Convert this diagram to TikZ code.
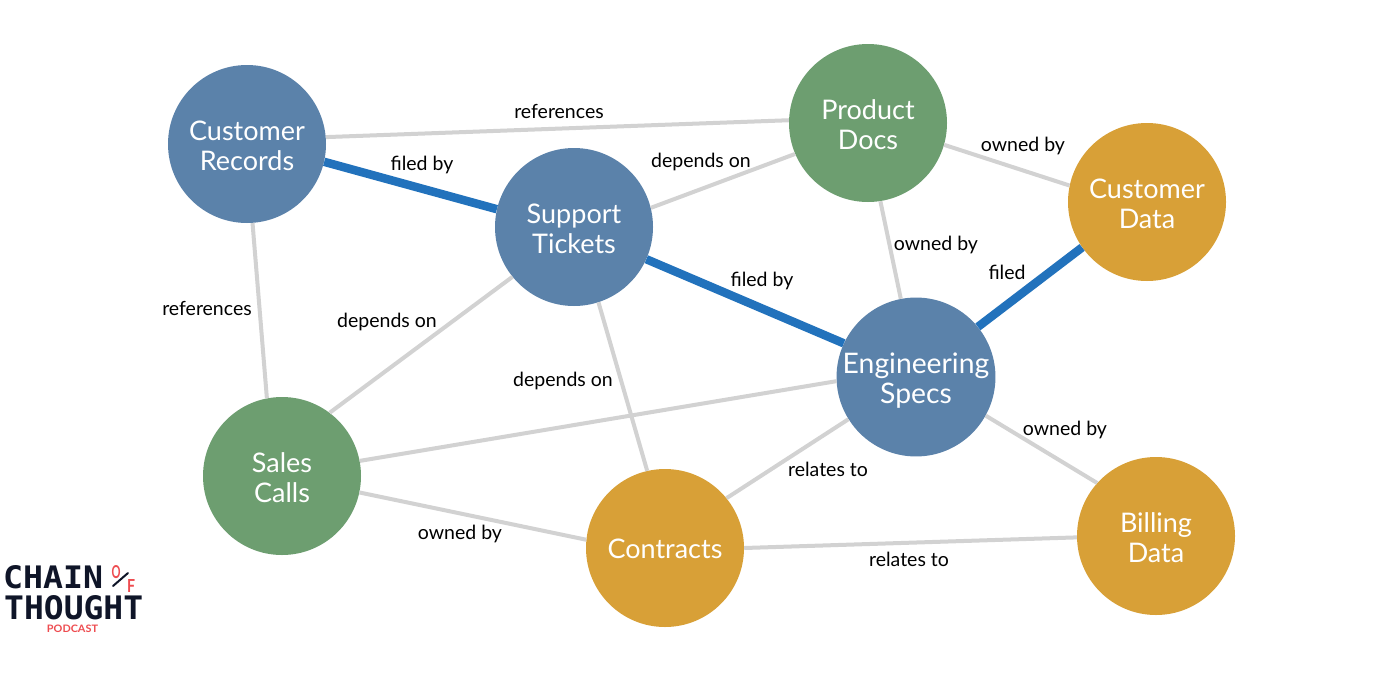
\documentclass[tikz,border=0pt]{standalone}
\usepackage{fontspec}
\setmainfont{Lato}
\newfontfamily\logofont{DejaVu Sans Mono}
\definecolor{nblue}{HTML}{5B82AA}
\definecolor{ngreen}{HTML}{6D9E70}
\definecolor{norange}{HTML}{D8A037}
\definecolor{egrey}{HTML}{D2D2D2}
\definecolor{eblue}{HTML}{2272BC}
\definecolor{logonavy}{HTML}{0F1528}
\definecolor{logored}{HTML}{EE4C50}
\newcommand{\pushdown}[1]{\rule{0pt}{#1}}
\tikzset{
  hub/.style={circle,minimum size=158pt,inner sep=0pt,text=white,align=center,
    font=\fontsize{27}{29.5}\selectfont},
  bluehub/.style={hub,fill=nblue},
  greenhub/.style={hub,fill=ngreen},
  orangehub/.style={hub,fill=norange},
  link/.style={draw=egrey,line width=4pt},
  hot/.style={draw=eblue,line width=8.5pt},
  tag/.style={inner sep=0pt,text=black,font=\fontsize{19.5}{23}\selectfont},
  logotext/.style={inner sep=0pt,font=\logofont\bfseries,text=logonavy},
  logoaccent/.style={inner sep=0pt,font=\bfseries,text=logored}
}
\begin{document}
\begin{tikzpicture}[x=1pt,y=-1pt]
\useasboundingbox (0,0) rectangle (1376,675);
\fill[white] (0,0) rectangle (1376,675);
% nodes
\node[bluehub] (cr) at (247,144) {\pushdown{23pt}Customer\\Records};
\node[bluehub] (st) at (574,227) {\pushdown{23pt}Support\\Tickets};
\node[greenhub] (pd) at (868,123) {\pushdown{23pt}Product\\Docs};
\node[orangehub] (cd) at (1147,202) {\pushdown{23pt}Customer\\Data};
\node[bluehub,font=\fontsize{28.3}{29.5}\selectfont] (es) at (916,377) {\pushdown{28pt}Engineering\\Specs};
\node[greenhub] (sc) at (282,476) {\pushdown{23pt}Sales\\Calls};
\node[orangehub] (co) at (665,548) {\pushdown{22pt}Contracts};
\node[orangehub] (bd) at (1156,536) {\pushdown{23pt}Billing\\Data};
% connectors
\draw[link] (cr.5.7) -- (pd.178.5);
\draw[link] (cr.-86.3) -- (sc.101);
\draw[link] (st.14) -- (pd.203);
\draw[link] (pd.-16.8) -- (cd.168);
\draw[link] (pd.-81.3) -- (es.101.6);
\draw[link] (st.219.3) -- (sc.53.7);
\draw[link] (st.-72.7) -- (co.103.9);
\draw[link] (sc.11.7) -- (es.183);
\draw[link] (sc.-12.4) -- (co.174);
\draw[link] (co.39.8) -- (es.212.5);
\draw[link] (co.0) -- (bd.181.5);
\draw[link] (es.-29.5) -- (bd.138.7);
\draw[hot] (cr.-13) -- (st.167.5);
\draw[hot] (st.-24.3) -- (es.155.4);
\draw[hot] (es.39.3) -- (cd.215.4);
% labels
\node[tag] (l1) at (559,111.5) {references};
\node[tag] (l2) at (422,164.5) {filed by};
\node[tag] (l3) at (701,161.5) {depends on};
\node[tag] (l4) at (1023,145.5) {owned by};
\node[tag] (l5) at (936,244.5) {owned by};
\node[tag] (l6) at (1007,272.5) {filed};
\node[tag] (l7) at (762,280.5) {filed by};
\node[tag] (l8) at (207,308.5) {references};
\node[tag] (l9) at (387,321.5) {depends on};
\node[tag] (l10) at (563,380.5) {depends on};
\node[tag] (l11) at (1065,429.5) {owned by};
\node[tag] (l12) at (828,469.5) {relates to};
\node[tag] (l13) at (460,533.5) {owned by};
\node[tag] (l14) at (909,559.5) {relates to};
% logo
\node[logotext,anchor=west] (lgA) at (3,577) {\resizebox{100pt}{23pt}{CHAIN}};
\node[logotext,anchor=west] (lgB) at (4,607.5) {\resizebox{139pt}{24pt}{THOUGHT}};
\node[logoaccent,anchor=center] (lgC) at (116,572.5) {\resizebox{9pt}{13pt}{O}};
\node[logoaccent,anchor=center] (lgD) at (131,586) {\resizebox{8pt}{13pt}{F}};
\coordinate (s1) at (113,586);
\coordinate (s2) at (128,573);
\draw[logonavy,line width=2pt,line cap=round] (s1) -- (s2);
\node[logoaccent,anchor=center] (lgE) at (72.5,629) {\resizebox{51pt}{7.5pt}{PODCAST}};
\end{tikzpicture}
\end{document}
